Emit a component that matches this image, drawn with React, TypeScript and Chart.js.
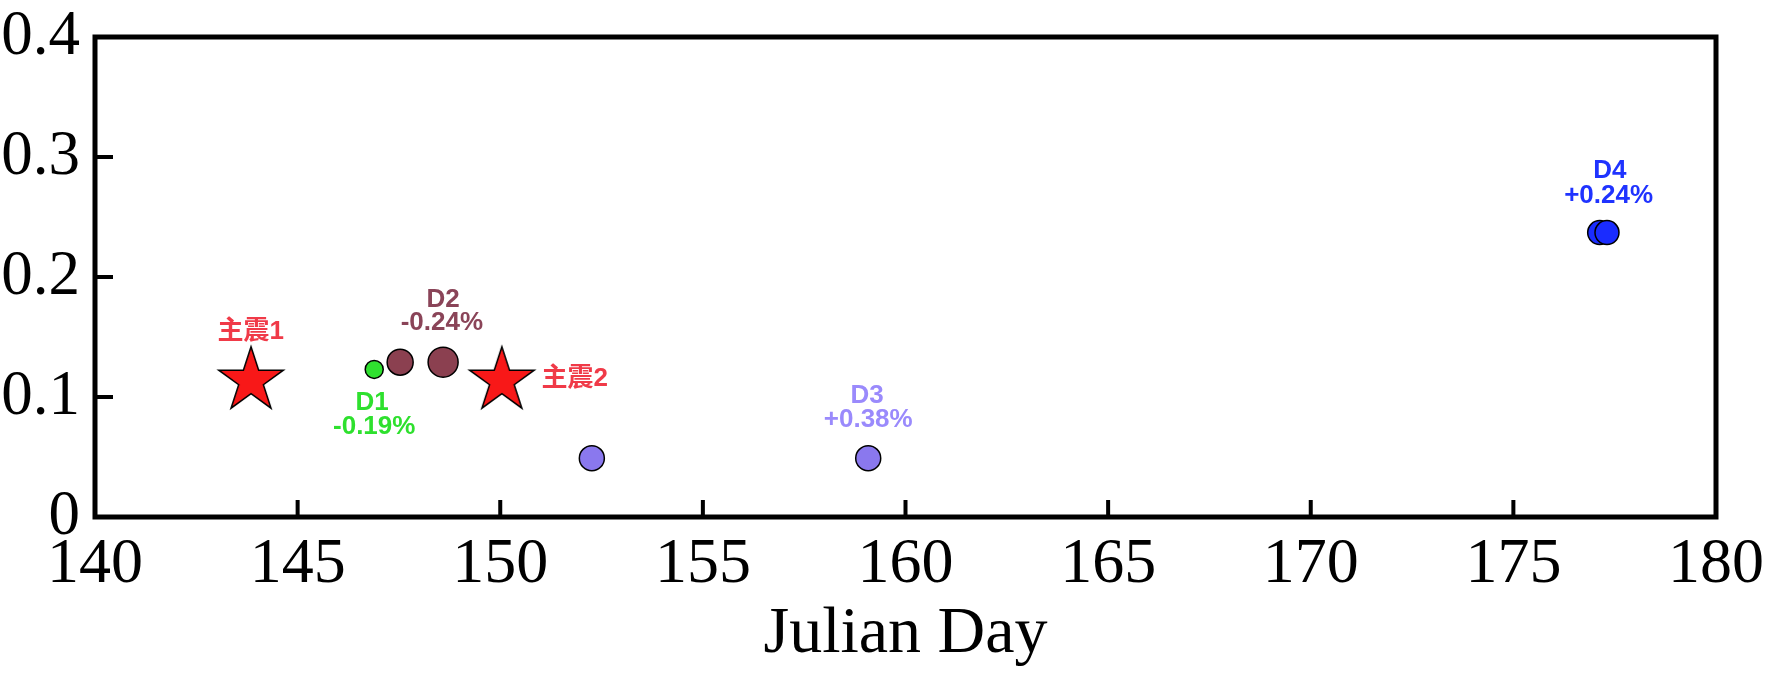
import React, { useEffect, useRef } from "react";
import { Chart, registerables } from "chart.js";

Chart.register(...registerables);

// ---- data ----
const xTickValues = [140, 145, 150, 155, 160, 165, 170, 175, 180];
const yTickValues = [0, 0.1, 0.2, 0.3, 0.4];

const mainshockDays = [143.85, 150.04];
const mainshockValues = [0.115, 0.115];

const d1Days = [146.89];
const d1Values = [0.123];

const d2Days = [147.53, 148.59];
const d2Values = [0.129, 0.129];

const d3Days = [152.26, 159.08];
const d3Values = [0.049, 0.049];

const d4Days = [177.13, 177.31];
const d4Values = [0.237, 0.237];

const labelTexts = ["主震1", "主震2", "D1", "-0.19%", "D2", "-0.24%", "D3", "+0.38%", "D4", "+0.24%"];
const labelDays = [143.84, 151.84, 146.84, 146.89, 148.59, 148.56, 159.05, 159.08, 177.38, 177.35];
const labelValues = [0.1544, 0.115, 0.095, 0.075, 0.1808, 0.1617, 0.1008, 0.0808, 0.2883, 0.2675];
const labelColors = [
  "#f03a48", "#f03a48", "#2ee02e", "#2ee02e", "#8a4458", "#8a4458",
  "#9a8afc", "#9a8afc", "#1f33ff", "#1f33ff",
];

function makeStar(R: number): HTMLCanvasElement {
  const c = document.createElement("canvas");
  const size = Math.ceil(2 * R + 4);
  c.width = size;
  c.height = size;
  const ctx = c.getContext("2d")!;
  const cx = size / 2;
  const cy = size / 2 + R * 0.05;
  const r = R * 0.382;
  ctx.beginPath();
  for (let i = 0; i < 10; i++) {
    const rad = i % 2 === 0 ? R : r;
    const a = -Math.PI / 2 + (i * Math.PI) / 5;
    const px = cx + rad * Math.cos(a);
    const py = cy + rad * Math.sin(a);
    if (i === 0) ctx.moveTo(px, py);
    else ctx.lineTo(px, py);
  }
  ctx.closePath();
  ctx.fillStyle = "#f81818";
  ctx.fill();
  ctx.lineWidth = 1.5;
  ctx.strokeStyle = "#000";
  ctx.stroke();
  return c;
}

const framePlugin = {
  id: "frameAndLabels",
  afterDatasetsDraw(chart: any) {
    const { ctx, chartArea, scales } = chart;
    const xs = scales.x;
    const ys = scales.y;
    ctx.save();
    // inward ticks
    ctx.strokeStyle = "#000";
    ctx.lineWidth = 4;
    ctx.beginPath();
    for (const v of xTickValues) {
      const px = xs.getPixelForValue(v);
      ctx.moveTo(px, chartArea.bottom);
      ctx.lineTo(px, chartArea.bottom - 17);
    }
    for (const v of yTickValues) {
      const py = ys.getPixelForValue(v);
      ctx.moveTo(chartArea.left, py);
      ctx.lineTo(chartArea.left + 18, py);
    }
    ctx.stroke();
    // frame
    ctx.lineWidth = 5;
    ctx.strokeRect(chartArea.left, chartArea.top, chartArea.right - chartArea.left, chartArea.bottom - chartArea.top);
    // labels
    ctx.font = 'bold 26px "Liberation Sans", "Noto Sans CJK SC", Arial, sans-serif';
    ctx.textAlign = "center";
    ctx.textBaseline = "middle";
    for (let i = 0; i < labelTexts.length; i++) {
      ctx.fillStyle = labelColors[i];
      ctx.fillText(labelTexts[i], xs.getPixelForValue(labelDays[i]), ys.getPixelForValue(labelValues[i]));
    }
    ctx.restore();
  },
};

export default function App() {
  const ref = useRef<HTMLCanvasElement | null>(null);
  useEffect(() => {
    document.body.style.margin = "0";
    const star = makeStar(34);
    const toPts = (xs: number[], ys: number[]) => xs.map((x, i) => ({ x, y: ys[i] }));
    const chart = new Chart(ref.current!, {
      type: "scatter",
      data: {
        datasets: [
          {
            label: "D1",
            data: toPts(d1Days, d1Values),
            backgroundColor: "#2fe02f",
            borderColor: "#000",
            borderWidth: 1.5,
            pointRadius: 9,
          },
          {
            label: "D2",
            data: toPts(d2Days, d2Values),
            backgroundColor: "#8b4050",
            borderColor: "#000",
            borderWidth: 1.5,
            pointRadius: [13, 15],
          },
          {
            label: "D3",
            data: toPts(d3Days, d3Values),
            backgroundColor: "#8a78ee",
            borderColor: "#000",
            borderWidth: 1.5,
            pointRadius: 12.5,
          },
          {
            label: "D4",
            data: toPts(d4Days, d4Values),
            backgroundColor: "#1a2cff",
            borderColor: "#000",
            borderWidth: 1.5,
            pointRadius: 12,
          },
          {
            label: "主震",
            data: toPts(mainshockDays, mainshockValues),
            pointStyle: star as any,
            pointRadius: 34,
          },
        ],
      },
      options: {
        responsive: false,
        animation: false,
        events: [],
        layout: { padding: { left: 0, right: 50, top: 37, bottom: 0 } },
        plugins: { legend: { display: false }, tooltip: { enabled: false } },
        scales: {
          x: {
            type: "linear",
            min: 140,
            max: 180,
            afterBuildTicks: (s: any) => {
              s.ticks = xTickValues.map((v) => ({ value: v }));
            },
            afterFit: (s: any) => {
              s.height = 160;
              s.paddingLeft = 0;
              s.paddingRight = 0;
            },
            grid: { display: false, drawTicks: false },
            border: { display: false },
            ticks: {
              color: "#000",
              padding: 10,
              maxRotation: 0,
              autoSkip: false,
              font: { family: '"Liberation Serif", "Times New Roman", serif', size: 64 },
              callback: (v: any) => String(v),
            },
            title: {
              display: true,
              text: "Julian Day",
              color: "#000",
              padding: { top: 0, bottom: 3 },
              font: { family: '"Liberation Serif", "Times New Roman", serif', size: 66 },
            },
          },
          y: {
            type: "linear",
            min: 0,
            max: 0.4,
            afterBuildTicks: (s: any) => {
              s.ticks = yTickValues.map((v) => ({ value: v }));
            },
            afterFit: (s: any) => {
              s.width = 95;
              s.paddingTop = 0;
              s.paddingBottom = 0;
            },
            grid: { display: false, drawTicks: false },
            border: { display: false },
            ticks: {
              color: "#000",
              padding: 15,
              autoSkip: false,
              font: { family: '"Liberation Serif", "Times New Roman", serif', size: 63 },
              callback: (v: any) => (v === 0 ? "0" : Number(v).toFixed(1)),
            },
          },
        },
      },
      plugins: [framePlugin],
    });
    return () => chart.destroy();
  }, []);
  return (
    <div style={{ width: 1766, height: 677 }}>
      <canvas ref={ref} width={1766} height={677} style={{ display: "block" }} />
    </div>
  );
}
